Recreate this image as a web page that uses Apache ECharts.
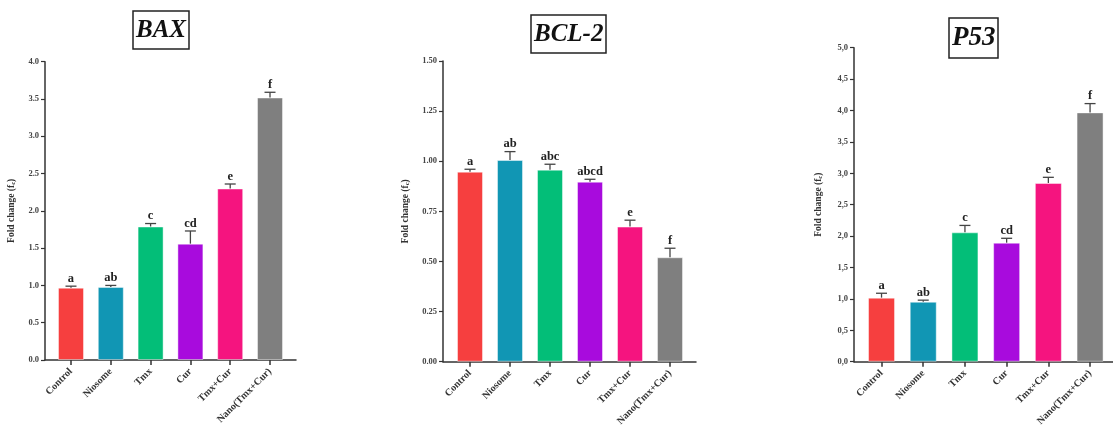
<!DOCTYPE html>
<html>
<head>
<meta charset="utf-8">
<script src="https://cdn.jsdelivr.net/npm/echarts@6/dist/echarts.min.js"></script>
<style>
  html, body { margin: 0; padding: 0; background: #fff; }
  #chart { width: 1113px; height: 436px; }
</style>
</head>
<body>
<div id="chart"></div>
<script>
// groups shown on every panel
var groups = ['Control', 'Niosome', 'Tmx', 'Cur', 'Tmx+Cur', 'Nano(Tmx+Cur)'];
var barColors = ['#F63F3F', '#1196B4', '#03BE78', '#A80BDD', '#F5147F', '#7F7F7F'];

// BAX
var baxMean = [0.97, 0.98, 1.79, 1.56, 2.30, 3.52];
var baxErr = [0.02, 0.02, 0.04, 0.17, 0.06, 0.07];
var baxLetters = ['a', 'ab', 'c', 'cd', 'e', 'f'];
var baxTicks = ['0.0', '0.5', '1.0', '1.5', '2.0', '2.5', '3.0', '3.5', '4.0'];

// BCL-2
var bclMean = [0.948, 1.006, 0.958, 0.898, 0.674, 0.521];
var bclErr = [0.012, 0.042, 0.027, 0.012, 0.032, 0.045];
var bclLetters = ['a', 'ab', 'abc', 'abcd', 'e', 'f'];
var bclTicks = ['0.00', '0.25', '0.50', '0.75', '1.00', '1.25', '1.50'];

// P53
var p53Mean = [1.02, 0.955, 2.06, 1.895, 2.846, 3.97];
var p53Err = [0.07, 0.025, 0.11, 0.07, 0.09, 0.14];
var p53Letters = ['a', 'ab', 'c', 'cd', 'e', 'f'];
var p53Ticks = ['0,0', '0,5', '1,0', '1,5', '2,0', '2,5', '3,0', '3,5', '4,0', '4,5', '5,0'];

var serif = '"Liberation Serif", "DejaVu Serif", serif';

var panels = [
    { title: 'BAX', mean: baxMean, err: baxErr, letters: baxLetters, ticks: baxTicks,
      max: 4, interval: 0.5,
      grid: { left: 45, top: 61.7, width: 251, height: 298.3 },
      xmin: -0.653, xmax: 5.653, barWidth: 26, nameGap: 28,
      titlePos: { left: 133, top: 11 }, titleSize: 25 },
    { title: 'BCL-2', mean: bclMean, err: bclErr, letters: bclLetters, ticks: bclTicks,
      max: 1.5, interval: 0.25,
      grid: { left: 443, top: 61, width: 253, height: 300.7 },
      xmin: -0.675, xmax: 5.65, barWidth: 26, nameGap: 32,
      titlePos: { left: 531, top: 15 }, titleSize: 25 },
    { title: 'P53', mean: p53Mean, err: p53Err, letters: p53Letters, ticks: p53Ticks,
      max: 5, interval: 0.5,
      grid: { left: 854, top: 47.7, width: 259, height: 314 },
      xmin: -0.66, xmax: 5.55, barWidth: 27, nameGap: 30,
      titlePos: { left: 949, top: 18 }, titleSize: 27 }
];

var titles = [], grids = [], xAxes = [], yAxes = [], series = [];

panels.forEach(function (p, k) {
    titles.push({
        text: p.title,
        left: p.titlePos.left,
        top: p.titlePos.top,
        padding: [7, 3, 6, 3],
        borderColor: '#222',
        borderWidth: 1.5,
        textStyle: {
            fontFamily: serif,
            fontStyle: 'italic',
            fontWeight: 'bold',
            fontSize: p.titleSize,
            color: '#111'
        }
    });

    grids.push(p.grid);

    xAxes.push({
        type: 'value',
        gridIndex: k,
        min: p.xmin,
        max: p.xmax,
        splitLine: { show: false },
        axisLine: { show: true, onZero: false, lineStyle: { color: '#333', width: 1.5 } },
        axisTick: { show: true, length: 5, customValues: [0, 1, 2, 3, 4, 5],
            lineStyle: { color: '#333', width: 1.5 } },
        axisLabel: {
            customValues: [0, 1, 2, 3, 4, 5],
            rotate: 45,
            margin: 10,
            fontFamily: serif,
            fontWeight: 'bold',
            fontSize: 10,
            color: '#333',
            formatter: function (v) { return groups[Math.round(v)]; }
        }
    });

    yAxes.push({
        type: 'value',
        gridIndex: k,
        min: 0,
        max: p.max,
        interval: p.interval,
        splitLine: { show: false },
        axisLine: { show: true, onZero: false, lineStyle: { color: '#333', width: 1.5 } },
        axisTick: { show: true, length: 4, lineStyle: { color: '#333', width: 1.2 } },
        axisLabel: {
            margin: 6,
            fontFamily: serif,
            fontWeight: 'bold',
            fontSize: 8.5,
            color: '#444',
            formatter: function (v) { return p.ticks[Math.round(v / p.interval)]; }
        },
        name: '{a|Fold change (f}{s|c}{a|)}',
        nameLocation: 'middle',
        nameGap: p.nameGap,
        nameTextStyle: {
            rich: {
                a: { fontFamily: serif, fontWeight: 'bold', fontSize: 9.5, color: '#333' },
                s: { fontFamily: serif, fontWeight: 'bold', fontSize: 6.5, color: '#333',
                     verticalAlign: 'bottom', padding: [4, 0, 0, 0] }
            }
        }
    });

    series.push({
        type: 'bar',
        xAxisIndex: k,
        yAxisIndex: k,
        barWidth: p.barWidth,
        data: p.mean.map(function (v, i) {
            return {
                value: [i, v],
                itemStyle: { color: barColors[i], borderColor: 'rgba(255,255,255,0.45)', borderWidth: 1 }
            };
        }),
        silent: true,
        z: 2
    });

    series.push({
        type: 'custom',
        xAxisIndex: k,
        yAxisIndex: k,
        data: p.mean.map(function (v, i) { return [i, v, v + p.err[i]]; }),
        renderItem: function (params, api) {
            var i = api.value(0);
            var base = api.coord([i, api.value(1)]);
            var top = api.coord([i, api.value(2)]);
            var half = 5.5;
            return {
                type: 'group',
                children: [
                    { type: 'line', shape: { x1: base[0], y1: base[1], x2: top[0], y2: top[1] },
                      style: { stroke: '#444', lineWidth: 1.3 } },
                    { type: 'line', shape: { x1: top[0] - half, y1: top[1], x2: top[0] + half, y2: top[1] },
                      style: { stroke: '#444', lineWidth: 1.3 } },
                    { type: 'text', x: top[0], y: top[1] - 1,
                      style: { text: p.letters[params.dataIndex], fontFamily: serif, fontWeight: 'bold',
                               fontSize: 12.5, fill: '#222', align: 'center', verticalAlign: 'bottom' } }
                ]
            };
        },
        silent: true,
        z: 3
    });
});

var myChart = echarts.init(document.getElementById('chart'));
myChart.setOption({
    animation: false,
    backgroundColor: '#fff',
    title: titles,
    grid: grids,
    xAxis: xAxes,
    yAxis: yAxes,
    series: series
});
</script>
</body>
</html>
